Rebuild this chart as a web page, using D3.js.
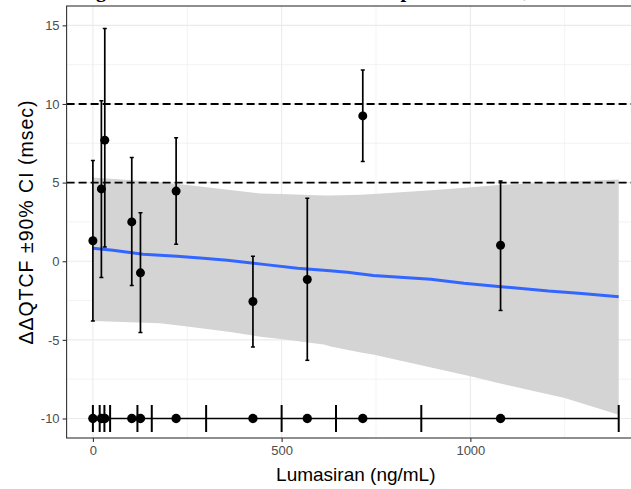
<!DOCTYPE html>
<html>
<head>
<meta charset="utf-8">
<script src="https://cdn.jsdelivr.net/npm/d3@7"></script>
<style>
  html, body { margin: 0; padding: 0; background: #fff; overflow: hidden; }
  svg { display: block; }
</style>
</head>
<body>
<svg id="chart" width="631" height="489"></svg>
<script>
// ---------------- data ----------------
const titleText = "Change in Lumasiran Concentration Slope versus ΔΔQTcF";
const xLabel = "Lumasiran (ng/mL)";
const yLabel = "ΔΔQTCF ±90% CI (msec)";

// binned observations: concentration, ΔΔQTcF mean, 90% CI
const conc  = [0,    22.5, 31.5, 103,   126,   220.5, 424,   568,   715,  1080];
const ddqtc = [1.3,  4.6,  7.7,  2.5,  -0.74,  4.46, -2.56, -1.16,  9.24, 1.02];
const ciLow = [-3.8, -1.03, 0.9, -1.54, -4.53,  1.08, -5.46, -6.3,  6.34, -3.13];
const ciHigh= [6.4,  10.2, 14.8, 6.6,   3.08,  7.85,  0.32,  4.0,  12.16, 5.1];

// model prediction (smooth) and its confidence band
const fitX  = [0, 53, 133, 223, 284, 356, 452, 542, 628, 674, 743, 895, 983, 1074, 1207, 1295, 1393];
const fitY  = [0.82, 0.7, 0.45, 0.32, 0.2, 0.06, -0.2, -0.45, -0.6, -0.7, -0.9, -1.15, -1.4, -1.6, -1.9, -2.05, -2.26];
const bandX = [0, 178, 250, 364, 444, 497, 612, 630, 710, 745, 896, 1003, 1074, 1250, 1393];
const bandHi= [5.33, 5.03, 4.85, 4.53, 4.31, 4.27, 4.18, 4.18, 4.22, 4.27, 4.52, 4.7, 4.84, 5.06, 5.2];
const bandLo= [-3.8, -3.95, -4.15, -4.5, -4.8, -4.95, -5.3, -5.42, -5.8, -5.95, -6.75, -7.33, -7.75, -8.7, -9.76];

// concentration bin boundaries (rug at y = -10)
const binEdges = [0, 18, 30.5, 45.6, 118, 156, 300, 500, 644, 870, 1393];
const rugY = -10;
const refLines = [5, 10];

const xTicks = [0, 500, 1000];
const xMinor = [250, 750, 1250];
const yTicks = [-10, -5, 0, 5, 10, 15];
const yMinor = [-7.5, -2.5, 2.5, 7.5, 12.5];

// ---------------- layout ----------------
const svg = d3.select("#chart");
const P = { left: 66.6, right: 645, top: 6, bottom: 438 };
const x = d3.scaleLinear().domain([-69.65, 1462.65]).range([P.left, P.right]);
const y = d3.scaleLinear().domain([-11.24, 16.23]).range([P.bottom, P.top]);

svg.append("defs").append("clipPath").attr("id", "clip")
  .append("rect").attr("x", P.left).attr("y", P.top)
  .attr("width", P.right - P.left).attr("height", P.bottom - P.top);

const panel = svg.append("g").attr("clip-path", "url(#clip)");

// grid
panel.selectAll(".xminor").data(xMinor).enter().append("line")
  .attr("x1", d => x(d)).attr("x2", d => x(d)).attr("y1", P.top).attr("y2", P.bottom)
  .attr("stroke", "#EBEBEB").attr("stroke-width", 0.6);
panel.selectAll(".yminor").data(yMinor).enter().append("line")
  .attr("y1", d => y(d)).attr("y2", d => y(d)).attr("x1", P.left).attr("x2", P.right)
  .attr("stroke", "#EBEBEB").attr("stroke-width", 0.6);
panel.selectAll(".xmajor").data(xTicks).enter().append("line")
  .attr("x1", d => x(d)).attr("x2", d => x(d)).attr("y1", P.top).attr("y2", P.bottom)
  .attr("stroke", "#EBEBEB").attr("stroke-width", 1.1);
panel.selectAll(".ymajor").data(yTicks).enter().append("line")
  .attr("y1", d => y(d)).attr("y2", d => y(d)).attr("x1", P.left).attr("x2", P.right)
  .attr("stroke", "#EBEBEB").attr("stroke-width", 1.1);

// confidence band
const band = bandX.map((d, i) => ({ x: d, lo: bandLo[i], hi: bandHi[i] }));
panel.append("path").datum(band)
  .attr("d", d3.area().x(d => x(d.x)).y0(d => y(d.lo)).y1(d => y(d.hi)))
  .attr("fill", "#D4D4D4");

// smooth line
const fit = fitX.map((d, i) => ({ x: d, y: fitY[i] }));
panel.append("path").datum(fit)
  .attr("d", d3.line().x(d => x(d.x)).y(d => y(d.y)))
  .attr("fill", "none").attr("stroke", "#3366FF").attr("stroke-width", 3);

// reference lines
panel.selectAll(".ref").data(refLines).enter().append("line")
  .attr("x1", P.left).attr("x2", P.right).attr("y1", d => y(d)).attr("y2", d => y(d))
  .attr("stroke", "#000").attr("stroke-width", 1.9).attr("stroke-dasharray", "8,4");

// error bars
const obs = conc.map((d, i) => ({ x: d, y: ddqtc[i], lo: ciLow[i], hi: ciHigh[i] }));
const eb = panel.selectAll(".eb").data(obs).enter().append("g");
eb.append("line").attr("x1", d => x(d.x)).attr("x2", d => x(d.x))
  .attr("y1", d => y(d.lo)).attr("y2", d => y(d.hi))
  .attr("stroke", "#000").attr("stroke-width", 1.7);
eb.append("line").attr("x1", d => x(d.x) - 2).attr("x2", d => x(d.x) + 2)
  .attr("y1", d => y(d.lo)).attr("y2", d => y(d.lo))
  .attr("stroke", "#000").attr("stroke-width", 1.5);
eb.append("line").attr("x1", d => x(d.x) - 2).attr("x2", d => x(d.x) + 2)
  .attr("y1", d => y(d.hi)).attr("y2", d => y(d.hi))
  .attr("stroke", "#000").attr("stroke-width", 1.5);
panel.selectAll(".pt").data(obs).enter().append("circle")
  .attr("cx", d => x(d.x)).attr("cy", d => y(d.y)).attr("r", 4.5).attr("fill", "#000");

// rug of concentration bins
panel.append("line").attr("x1", x(binEdges[0])).attr("x2", x(binEdges[binEdges.length - 1]))
  .attr("y1", y(rugY)).attr("y2", y(rugY)).attr("stroke", "#000").attr("stroke-width", 1.6);
panel.selectAll(".edge").data(binEdges).enter().append("line")
  .attr("x1", d => x(d)).attr("x2", d => x(d))
  .attr("y1", y(rugY + 0.86)).attr("y2", y(rugY - 0.86))
  .attr("stroke", "#000").attr("stroke-width", 2);
panel.selectAll(".rpt").data(conc).enter().append("circle")
  .attr("cx", d => x(d)).attr("cy", y(rugY)).attr("r", 4.7).attr("fill", "#000");

// panel border
svg.append("rect").attr("x", P.left).attr("y", P.top)
  .attr("width", P.right - P.left).attr("height", P.bottom - P.top)
  .attr("fill", "none").attr("stroke", "#333333").attr("stroke-width", 1.1);

// axes
const font = "'Liberation Sans', Arial, sans-serif";
const xAxis = svg.append("g").attr("transform", `translate(0,${P.bottom})`)
  .call(d3.axisBottom(x).tickValues(xTicks).tickSize(4).tickPadding(4).tickFormat(d3.format("d")));
const yAxis = svg.append("g").attr("transform", `translate(${P.left},0)`)
  .call(d3.axisLeft(y).tickValues(yTicks).tickSize(4).tickPadding(3).tickFormat(d3.format("d")));
[xAxis, yAxis].forEach(a => {
  a.select(".domain").remove();
  a.selectAll(".tick line").attr("stroke", "#333333").attr("stroke-width", 1.1);
  a.selectAll(".tick text").attr("fill", "#4D4D4D").style("font-family", font).style("font-size", "13px");
});
yAxis.selectAll(".tick text").text(d => d < 0 ? "-" + Math.abs(d) : d);

svg.append("text").attr("x", (P.left + P.right) / 2).attr("y", 481)
  .attr("text-anchor", "middle").style("font-family", font).style("font-size", "19px")
  .attr("fill", "#000").text(xLabel);

svg.append("text").attr("transform", `translate(33,${(P.top + P.bottom) / 2}) rotate(-90)`)
  .attr("text-anchor", "middle").style("font-family", font).style("font-size", "19.5px")
  .style("letter-spacing", "1px")
  .attr("fill", "#000").text(yLabel);

// title (sits above the visible area, only its descenders show, as in the reference)
const tfs = 23;
const title = svg.append("text").attr("x", 0).attr("y", -3)
  .style("font-family", "'Liberation Serif', 'Times New Roman', serif")
  .style("font-weight", "bold").style("font-size", tfs + "px")
  .attr("fill", "#000").text(titleText);
const node = title.node();
const gi = titleText.indexOf("g"), qi = titleText.indexOf("Q");
const gx = node.getStartPositionOfChar(gi).x;
const qx = node.getStartPositionOfChar(qi).x;
const s = (512 - 96) / (qx - gx);
title.style("font-size", (tfs * s) + "px");
const gx2 = node.getStartPositionOfChar(gi).x;
title.attr("x", 96 - gx2);
</script>
</body>
</html>
